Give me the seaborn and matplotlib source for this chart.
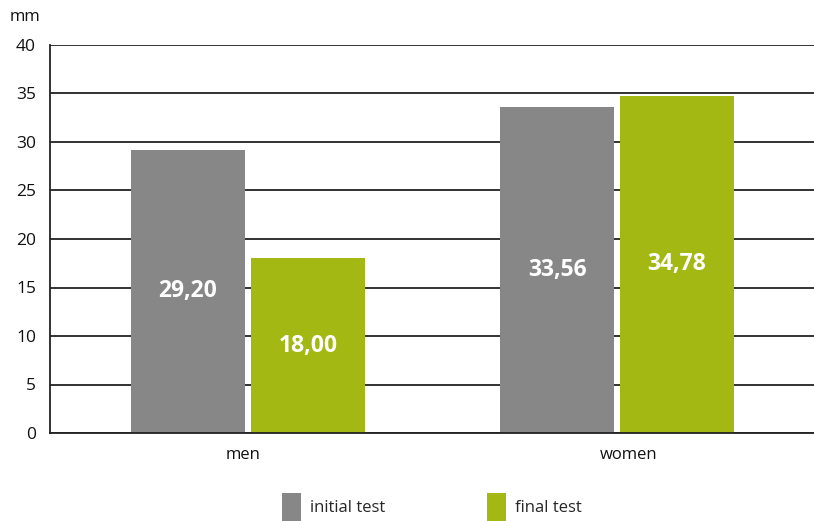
import matplotlib
matplotlib.use("Agg")
import matplotlib.pyplot as plt
import seaborn as sns
import pandas as pd
from matplotlib.patches import Patch

groups = ["men", "women"]
series = ["initial test", "final test"]
initial_values = [29.20, 33.56]
final_values = [18.00, 34.78]
y_ticks = [0, 5, 10, 15, 20, 25, 30, 35, 40]
colors = {"initial test": "#878787", "final test": "#a3b812"}

df = pd.DataFrame({
    "group": groups * 2,
    "test": [series[0]] * 2 + [series[1]] * 2,
    "value": initial_values + final_values,
})

sns.set_theme(style="white")
plt.rcParams["font.family"] = ["Open Sans", "DejaVu Sans"]

fig = plt.figure(figsize=(8.14, 5.21), dpi=100)
ax = fig.add_axes([50 / 814, 1 - 433 / 521, 1 - 50 / 814, (433 - 45) / 521])

sns.barplot(data=df, x="group", y="value", hue="test", palette=colors,
            width=0.650, gap=0.05, saturation=1, legend=False, ax=ax,
            zorder=3, linewidth=0)

ax.set_ylim(0, 40)
ax.set_yticks(y_ticks)
ax.set_yticklabels([str(t) for t in y_ticks], fontsize=12.5, color="#111")
ax.yaxis.grid(True, color="#222", linewidth=1.3, zorder=1)
ax.set_axisbelow(True)

# x axis: category spans separated by ticks, labels centred in each span
left = -198 / 369
right = left + 764 / 369
divider = left + 386 / 369
ax.set_xlim(left, right)
ax.set_xticks([left, divider])
ax.set_xticklabels(["", ""])
ax.set_xticks([left + 193 / 369, divider + 193 / 369], minor=True)
ax.set_xticklabels(groups, minor=True, fontsize=12, color="#111")
ax.tick_params(axis="x", which="major", length=6, width=1.2, color="#222", direction="out")
ax.tick_params(axis="x", which="minor", length=0, pad=10)
ax.tick_params(axis="y", length=7, width=1.2, color="#222", direction="out", pad=3)
ax.set_xlabel("")
ax.set_ylabel("")

for side in ["top", "right"]:
    ax.spines[side].set_visible(False)
for side in ["left", "bottom"]:
    ax.spines[side].set_color("#222")
    ax.spines[side].set_linewidth(1.3)
    ax.spines[side].set_zorder(4)

for container in ax.containers:
    ax.bar_label(container, labels=[f"{v:.2f}".replace(".", ",") for v in container.datavalues],
                 label_type="center", color="white", fontsize=16.5, fontweight="bold",
                 family=["Open Sans", "DejaVu Sans"])

fig.text(10 / 814, 1 - 17 / 521, "mm", fontsize=12, color="#111", va="center", ha="left")

handles = [Patch(facecolor=colors[s], edgecolor="none") for s in series]
fig.legend(handles, series, loc="center", bbox_to_anchor=(432 / 814, 1 - 507 / 521), ncol=2,
           frameon=False, fontsize=12, handlelength=1.15, handleheight=2.2,
           columnspacing=6.1, handletextpad=0.55)

fig.savefig("out.png", dpi=100)
